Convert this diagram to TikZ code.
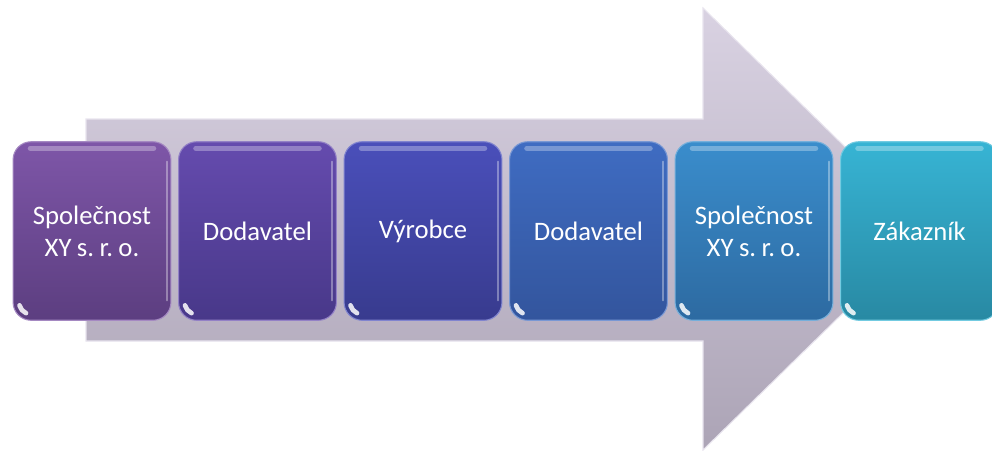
\documentclass[tikz,border=0pt]{standalone}
\usepackage{fontspec}
\setmainfont{Carlito}
\newcommand{\tightspaces}{\spaceskip=3.6pt plus 1pt minus 1pt\relax}
\definecolor{arrT}{HTML}{D9D2E2}
\definecolor{arrB}{HTML}{ACA4B6}
\definecolor{c1t}{HTML}{7E56A8}\definecolor{c1b}{HTML}{5C3E80}
\definecolor{c2t}{HTML}{654BAE}\definecolor{c2b}{HTML}{483889}
\definecolor{c3t}{HTML}{4A4FBA}\definecolor{c3b}{HTML}{383B8E}
\definecolor{c4t}{HTML}{3F6CC2}\definecolor{c4b}{HTML}{33559D}
\definecolor{c5t}{HTML}{3A8DCC}\definecolor{c5b}{HTML}{2D6AA1}
\definecolor{c6t}{HTML}{37B4D4}\definecolor{c6b}{HTML}{2889A3}
\pgfdeclarelayer{bg}
\pgfsetlayers{bg,main}
\begin{document}
\begin{tikzpicture}[x=0.75pt,y=-0.75pt,
  stage/.style={rectangle, minimum width=118pt, minimum height=133.5pt,
    text width=112pt, align=center, inner sep=0pt, text=white,
    font=\fontsize{20}{24}\selectfont\frenchspacing},
  boxfill/.style 2 args={rounded corners=13.5pt, top color=#1, bottom color=#2,
    draw=#1!70!white, line width=0.8pt},
  gloss/.style={white, opacity=0.3, line width=4pt, line cap=round},
  edge/.style={white, opacity=0.35, line width=1.5pt, line cap=round},
  glint/.style={white, opacity=0.85, line width=3.5pt, line cap=round}
]
\useasboundingbox (0,0) rectangle (992,450);
% stages
\node[stage] (b1) at (92,231) {Společnost\\{\tightspaces XY s. r. o.}};
\node[stage] (b2) at (257.5,231) {Dodavatel};
\node[stage] (b3) at (423,231) {Výrobce};
\node[stage] (b4) at (588.5,231) {Dodavatel};
\node[stage] (b5) at (754,231) {Společnost\\{\tightspaces XY s. r. o.}};
\node[stage] (b6) at (919.5,231) {Zákazník};
\begin{pgfonlayer}{bg}
% big arrow
\path[top color=arrT, bottom color=arrB, draw=arrT!60!white, line width=0.8pt]
  (86,119) -- (703,119) -- (703,8) -- (929,229) -- (703,450) -- (703,341) -- (86,341) -- cycle;
\foreach \b/\c in {b1/1,b2/2,b3/3,b4/4,b5/5,b6/6}{
  \path[boxfill={c\c t}{c\c b}] (\b.south west) rectangle (\b.north east);
}
\end{pgfonlayer}
\begin{scope}[x=1pt,y=1pt]
\foreach \b in {b1,b2,b3,b4,b5,b6}{
  \draw[gloss] ([xshift=13pt,yshift=-5pt]\b.north west) -- ([xshift=-13pt,yshift=-5pt]\b.north east);
  \draw[edge] ([xshift=-3pt,yshift=-15pt]\b.north east) -- ([xshift=-3pt,yshift=15pt]\b.south east);
  \draw[glint] ([shift={(13.5pt,13.5pt)}]\b.south west) ++(195:9pt) arc[start angle=195,end angle=245,radius=9pt];
}
\end{scope}
\end{tikzpicture}
\end{document}
